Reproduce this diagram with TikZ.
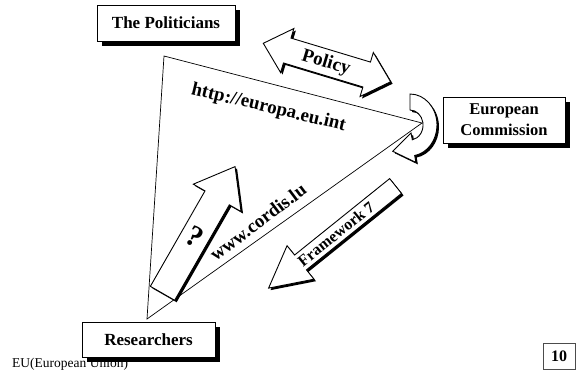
\documentclass[tikz,border=0pt]{standalone}
\usepackage{fontspec}
\setmainfont{Liberation Serif}
\usetikzlibrary{calc}
\tikzset{
  edge/.style={line width=0.7pt},
  arrowbody/.style={draw=black, fill=white, line width=0.9pt, line join=miter},
  labelbox/.style={draw=black, fill=white, line width=0.9pt, inner sep=0pt,
    font=\bfseries\fontsize{17}{20}\selectfont, align=center,
    preaction={fill=black, transform canvas={xshift=5pt,yshift=-5pt}}},
  bigtext/.style={font=\bfseries\fontsize{19}{22}\selectfont, inner sep=0pt},
  midtext/.style={font=\bfseries\fontsize{16}{19}\selectfont, inner sep=0pt},
}
% #1 x, #2 y (tail centre), #3 angle, #4 length, #5 half shaft, #6 half head, #7 head length
\newcommand\fatarrowone[7]{%
  \begin{scope}[shift={(#1,#2)},xshift=2pt,yshift=-2pt,rotate=#3]
    \fill[black] (0,-#5) -- (#4-#7,-#5) -- (#4-#7,-#6) -- (#4,0) -- (#4-#7,#6) -- (#4-#7,#5) -- (0,#5) -- cycle;
  \end{scope}
  \begin{scope}[shift={(#1,#2)},rotate=#3]
    \draw[arrowbody] (0,-#5) -- (#4-#7,-#5) -- (#4-#7,-#6) -- (#4,0) -- (#4-#7,#6) -- (#4-#7,#5) -- (0,#5) -- cycle;
  \end{scope}}
% double arrow: #1 x, #2 y (left tip), #3 angle, #4 length, #5 half shaft, #6 half head, #7 head length
\newcommand\fatarrowtwo[7]{%
  \begin{scope}[shift={(#1,#2)},xshift=2pt,yshift=-2pt,rotate=#3]
    \fill[black] (0,0) -- (#7,-#6) -- (#7,-#5) -- (#4-#7,-#5) -- (#4-#7,-#6) -- (#4,0) -- (#4-#7,#6) -- (#4-#7,#5) -- (#7,#5) -- (#7,#6) -- cycle;
  \end{scope}
  \begin{scope}[shift={(#1,#2)},rotate=#3]
    \draw[arrowbody] (0,0) -- (#7,-#6) -- (#7,-#5) -- (#4-#7,-#5) -- (#4-#7,-#6) -- (#4,0) -- (#4-#7,#6) -- (#4-#7,#5) -- (#7,#5) -- (#7,#6) -- cycle;
  \end{scope}}
\begin{document}
\begin{tikzpicture}[x=1pt,y=-1pt]
\useasboundingbox (0,0) rectangle (576,370);

% triangle
\coordinate (tA) at (164,56);
\coordinate (tB) at (422,123);
\coordinate (tC) at (147,319);
\draw[edge] (tA) -- (tB) -- (tC) -- cycle;

% fat arrows
\fatarrowtwo{263.3}{43.3}{-16.8}{133}{13}{23}{25}
\fatarrowone{395.6}{186}{218.8}{163}{9.5}{21.5}{41}
\fatarrowone{162.5}{293.3}{60.2}{146}{14}{27.5}{36}

% curved arrow at the Commission
\begin{scope}[xshift=2pt,yshift=-2pt]
  \fill[black] (410,94) arc[start angle=-90, end angle=80, x radius=27, y radius=31]
    -- (415.9,162.4) -- (392.8,151.3) -- (411,132.9) -- (412.3,139.8)
    arc[start angle=80, end angle=-90, x radius=13, y radius=15] -- cycle;
\end{scope}
\draw[arrowbody] (410,94) arc[start angle=-90, end angle=80, x radius=27, y radius=31]
    -- (415.9,162.4) -- (392.8,151.3) -- (411,132.9) -- (412.3,139.8)
    arc[start angle=80, end angle=-90, x radius=13, y radius=15] -- cycle;

% texts
\node[bigtext, anchor=base, rotate=-13.4] (url1) at (267.5,112.5) {http://europa.eu.int};
\node[bigtext, rotate=37] (url2) at (258,222) {www.cordis.lu};
\node[bigtext, rotate=-16.8] (policy) at (326,63) {Policy};
\node[midtext, rotate=38.8] (fw) at (336,234) {Framework 7};
\node[font=\bfseries\fontsize{30}{32}\selectfont, inner sep=0pt, rotate=-30] (qm) at (194.5,237) {?};

\node[anchor=base west, font=\fontsize{13.5}{16}\selectfont, inner sep=0pt] (eu) at (12,367) {EU(European Union)};

% boxes
\node[labelbox, minimum width=138pt, minimum height=36pt] (pol) at (166,23) {The Politicians};
\node[labelbox, minimum width=122pt, minimum height=46pt, font=\bfseries\fontsize{16.5}{21}\selectfont] (ec) at (504,120) {European\\Commission};
\node[labelbox, minimum width=133pt, minimum height=35pt] (res) at (148.5,339.5) {Researchers};
\node[draw=black!70, line width=0.8pt, fill=white, minimum width=32pt, minimum height=26pt, inner sep=0pt,
      font=\bfseries\fontsize{16}{19}\selectfont] (page) at (559,356) {10};
\end{tikzpicture}
\end{document}
